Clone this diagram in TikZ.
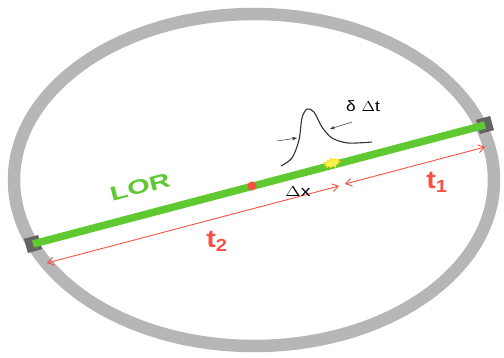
\documentclass[tikz,border=0pt]{standalone}
\usepackage{fontspec}
\setmainfont{Liberation Sans}
\usepackage{xcolor}
\usepackage{tikz}
\usetikzlibrary{calc,arrows.meta,positioning,shapes.symbols}
\definecolor{ringGray}{RGB}{182,182,182}
\definecolor{detGray}{RGB}{100,100,100}
\definecolor{lorGreen}{RGB}{96,200,48}
\definecolor{tofRed}{RGB}{250,80,66}
\definecolor{flashYellow}{RGB}{250,240,80}

\begin{document}
\begin{tikzpicture}[x=1pt,y=-1pt,
    detector/.style={draw=detGray!80!black, fill=detGray, minimum size=14pt, inner sep=0pt, rotate=15},
    tofarrow/.style={tofRed, line width=0.9pt, {Straight Barb[length=6pt,width=8pt]}-{Straight Barb[length=6pt,width=8pt]}},
    widtharrow/.style={black!80, line width=0.5pt, -{Stealth[length=5pt,width=3.5pt]}}]
    \useasboundingbox (0,0) rectangle (504,358);

    % detector ring
    \draw[ringGray, line width=12.5pt] (254,180) ellipse [x radius=240, y radius=166];

    % detectors and line of response
    \node[detector] (det2) at (33,244) {};
    \node[detector] (det1) at (485,125) {};
    \draw[lorGreen, line width=7.5pt] (det2.center) -- (det1.center);
    \node[text=lorGreen, font=\bfseries\fontsize{20}{20}\selectfont, rotate=14.6, xscale=1.45, inner sep=1pt] (lor) at (140,187) {LOR};

    % centre point and annihilation event
    \node[circle, fill=tofRed, minimum size=9pt, inner sep=0pt] (centre) at (252,186) {};
    \node[starburst, starburst points=11, starburst point height=3pt, fill=flashYellow, draw=yellow!70!orange,
          line width=0.4pt, minimum width=19pt, minimum height=12pt, inner sep=0pt, rotate=15] (event) at (332,163) {};

    % time of flight arrows
    \coordinate (t2a) at (47,263);
    \coordinate (t2b) at (339,186);
    \coordinate (t1a) at (345,184);
    \coordinate (t1b) at (485,147);
    \draw[tofarrow] (t2a) -- (t2b);
    \draw[tofarrow] (t1a) -- (t1b);
    \node[text=tofRed, font=\bfseries\fontsize{25}{25}\selectfont, xscale=1.15] (t2) at (217,241) {t\textsubscript{2}};
    \node[text=tofRed, font=\bfseries\fontsize{25}{25}\selectfont, xscale=1.15] (t1) at (437,182) {t\textsubscript{1}};
    \node[font=\fontsize{15}{15}\selectfont, xscale=1.3] (dx) at (298,192) {$\Delta$x};

    % timing resolution kernel
    \draw[black!80, line width=1.1pt, smooth] plot coordinates {(281,166) (292,158) (299,140) (302,118) (307,109) (314,112) (322,127) (332,138) (348,143) (372,142)};
    \coordinate (wl) at (277,141);
    \coordinate (wr) at (352,122);
    \draw[widtharrow] (wl) -- ++(20,-3);
    \draw[widtharrow] (wr) -- ++(-22,7);
    \node[font=\fontsize{15}{15}\selectfont, xscale=1.15] (dt) at (363,106) {δ\,\,$\Delta$t};
\end{tikzpicture}
\end{document}
